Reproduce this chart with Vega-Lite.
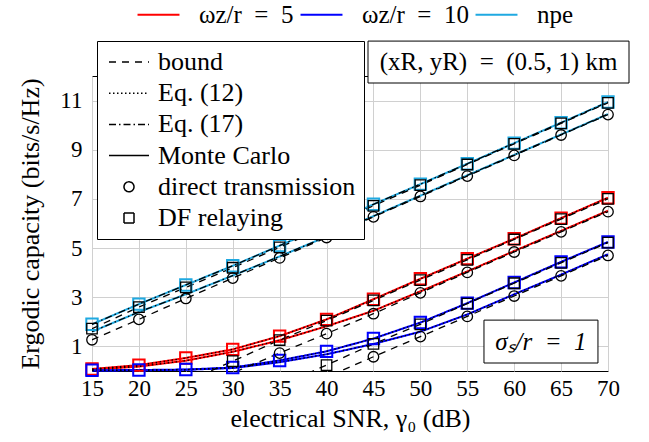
{
  "$schema": "https://vega.github.io/schema/vega-lite/v6.json",
  "width": 516,
  "height": 295,
  "autosize": {"type": "none"},
  "padding": {"left": 92, "top": 76, "right": 41, "bottom": 71},
  "background": "white",
  "config": {
    "font": "Liberation Serif",
    "view": {"stroke": "black", "strokeWidth": 1},
    "axis": {"labelFont": "Liberation Serif", "labelFontSize": 23, "labelColor": "black", "titleFont": "Liberation Serif", "titleFontSize": 26, "titleFontWeight": "normal", "titleColor": "black", "grid": true, "gridColor": "#d0d0d0", "gridWidth": 1, "domain": false, "ticks": false, "labelFlush": false, "labelOverlap": false},
    "legend": {"symbolBaseStrokeColor": "black", "symbolBaseFillColor": "transparent", "labelFont": "Liberation Serif", "labelColor": "black"}
  },
  "data": {"values": [
    {"snr": 15, "group": "w5", "scheme": "DF relaying", "mc": 0.08, "bound": -2.1},
    {"snr": 20, "group": "w5", "scheme": "DF relaying", "mc": 0.24, "bound": -1.3},
    {"snr": 25, "group": "w5", "scheme": "DF relaying", "mc": 0.53, "bound": -0.45},
    {"snr": 30, "group": "w5", "scheme": "DF relaying", "mc": 0.88, "bound": 0.4},
    {"snr": 35, "group": "w5", "scheme": "DF relaying", "mc": 1.42, "bound": 1.26},
    {"snr": 40, "group": "w5", "scheme": "DF relaying", "mc": 2.1, "bound": 2.05},
    {"snr": 45, "group": "w5", "scheme": "DF relaying", "mc": 2.92, "bound": 2.87},
    {"snr": 50, "group": "w5", "scheme": "DF relaying", "mc": 3.75, "bound": 3.7},
    {"snr": 55, "group": "w5", "scheme": "DF relaying", "mc": 4.57, "bound": 4.52},
    {"snr": 60, "group": "w5", "scheme": "DF relaying", "mc": 5.38, "bound": 5.35},
    {"snr": 65, "group": "w5", "scheme": "DF relaying", "mc": 6.22, "bound": 6.18},
    {"snr": 70, "group": "w5", "scheme": "DF relaying", "mc": 7.05, "bound": 7.0},
    {"snr": 15, "group": "w5", "scheme": "direct transmission", "mc": 0.06, "bound": -2.5},
    {"snr": 20, "group": "w5", "scheme": "direct transmission", "mc": 0.18, "bound": -1.7},
    {"snr": 25, "group": "w5", "scheme": "direct transmission", "mc": 0.42, "bound": -0.9},
    {"snr": 30, "group": "w5", "scheme": "direct transmission", "mc": 0.78, "bound": -0.08},
    {"snr": 35, "group": "w5", "scheme": "direct transmission", "mc": 1.25, "bound": 0.73},
    {"snr": 40, "group": "w5", "scheme": "direct transmission", "mc": 1.82, "bound": 1.52},
    {"snr": 45, "group": "w5", "scheme": "direct transmission", "mc": 2.45, "bound": 2.33},
    {"snr": 50, "group": "w5", "scheme": "direct transmission", "mc": 3.24, "bound": 3.18},
    {"snr": 55, "group": "w5", "scheme": "direct transmission", "mc": 4.05, "bound": 4.01},
    {"snr": 60, "group": "w5", "scheme": "direct transmission", "mc": 4.88, "bound": 4.84},
    {"snr": 65, "group": "w5", "scheme": "direct transmission", "mc": 5.7, "bound": 5.66},
    {"snr": 70, "group": "w5", "scheme": "direct transmission", "mc": 6.52, "bound": 6.48},
    {"snr": 15, "group": "w10", "scheme": "DF relaying", "mc": 0.03, "bound": -3.8},
    {"snr": 20, "group": "w10", "scheme": "DF relaying", "mc": 0.04, "bound": -3.0},
    {"snr": 25, "group": "w10", "scheme": "DF relaying", "mc": 0.06, "bound": -2.2},
    {"snr": 30, "group": "w10", "scheme": "DF relaying", "mc": 0.14, "bound": -1.4},
    {"snr": 35, "group": "w10", "scheme": "DF relaying", "mc": 0.43, "bound": -0.6},
    {"snr": 40, "group": "w10", "scheme": "DF relaying", "mc": 0.8, "bound": 0.24},
    {"snr": 45, "group": "w10", "scheme": "DF relaying", "mc": 1.32, "bound": 1.1},
    {"snr": 50, "group": "w10", "scheme": "DF relaying", "mc": 1.97, "bound": 1.9},
    {"snr": 55, "group": "w10", "scheme": "DF relaying", "mc": 2.76, "bound": 2.74},
    {"snr": 60, "group": "w10", "scheme": "DF relaying", "mc": 3.6, "bound": 3.57},
    {"snr": 65, "group": "w10", "scheme": "DF relaying", "mc": 4.44, "bound": 4.4},
    {"snr": 70, "group": "w10", "scheme": "DF relaying", "mc": 5.25, "bound": 5.22},
    {"snr": 15, "group": "w10", "scheme": "direct transmission", "mc": 0.02, "bound": -4.3},
    {"snr": 20, "group": "w10", "scheme": "direct transmission", "mc": 0.03, "bound": -3.5},
    {"snr": 25, "group": "w10", "scheme": "direct transmission", "mc": 0.05, "bound": -2.7},
    {"snr": 30, "group": "w10", "scheme": "direct transmission", "mc": 0.12, "bound": -1.9},
    {"snr": 35, "group": "w10", "scheme": "direct transmission", "mc": 0.36, "bound": -1.1},
    {"snr": 40, "group": "w10", "scheme": "direct transmission", "mc": 0.68, "bound": -0.25},
    {"snr": 45, "group": "w10", "scheme": "direct transmission", "mc": 1.1, "bound": 0.58},
    {"snr": 50, "group": "w10", "scheme": "direct transmission", "mc": 1.6, "bound": 1.4},
    {"snr": 55, "group": "w10", "scheme": "direct transmission", "mc": 2.3, "bound": 2.22},
    {"snr": 60, "group": "w10", "scheme": "direct transmission", "mc": 3.12, "bound": 3.05},
    {"snr": 65, "group": "w10", "scheme": "direct transmission", "mc": 3.92, "bound": 3.87},
    {"snr": 70, "group": "w10", "scheme": "direct transmission", "mc": 4.75, "bound": 4.7},
    {"snr": 15, "group": "npe", "scheme": "DF relaying", "mc": 1.9, "bound": 1.72},
    {"snr": 20, "group": "npe", "scheme": "DF relaying", "mc": 2.72, "bound": 2.6},
    {"snr": 25, "group": "npe", "scheme": "DF relaying", "mc": 3.5, "bound": 3.4},
    {"snr": 30, "group": "npe", "scheme": "DF relaying", "mc": 4.28, "bound": 4.2},
    {"snr": 35, "group": "npe", "scheme": "DF relaying", "mc": 5.1, "bound": 5.03},
    {"snr": 40, "group": "npe", "scheme": "DF relaying", "mc": 5.93, "bound": 5.87},
    {"snr": 45, "group": "npe", "scheme": "DF relaying", "mc": 6.78, "bound": 6.72},
    {"snr": 50, "group": "npe", "scheme": "DF relaying", "mc": 7.6, "bound": 7.56},
    {"snr": 55, "group": "npe", "scheme": "DF relaying", "mc": 8.43, "bound": 8.4},
    {"snr": 60, "group": "npe", "scheme": "DF relaying", "mc": 9.27, "bound": 9.24},
    {"snr": 65, "group": "npe", "scheme": "DF relaying", "mc": 10.1, "bound": 10.07},
    {"snr": 70, "group": "npe", "scheme": "DF relaying", "mc": 10.94, "bound": 10.91},
    {"snr": 15, "group": "npe", "scheme": "direct transmission", "mc": 1.6, "bound": 1.27},
    {"snr": 20, "group": "npe", "scheme": "direct transmission", "mc": 2.4, "bound": 2.1},
    {"snr": 25, "group": "npe", "scheme": "direct transmission", "mc": 3.12, "bound": 2.95},
    {"snr": 30, "group": "npe", "scheme": "direct transmission", "mc": 3.88, "bound": 3.78},
    {"snr": 35, "group": "npe", "scheme": "direct transmission", "mc": 4.66, "bound": 4.6},
    {"snr": 40, "group": "npe", "scheme": "direct transmission", "mc": 5.47, "bound": 5.43},
    {"snr": 45, "group": "npe", "scheme": "direct transmission", "mc": 6.3, "bound": 6.27},
    {"snr": 50, "group": "npe", "scheme": "direct transmission", "mc": 7.13, "bound": 7.1},
    {"snr": 55, "group": "npe", "scheme": "direct transmission", "mc": 7.96, "bound": 7.93},
    {"snr": 60, "group": "npe", "scheme": "direct transmission", "mc": 8.79, "bound": 8.77},
    {"snr": 65, "group": "npe", "scheme": "direct transmission", "mc": 9.62, "bound": 9.6},
    {"snr": 70, "group": "npe", "scheme": "direct transmission", "mc": 10.45, "bound": 10.43}
  ]},
  "layer": [
    {
      "mark": {"type": "line", "strokeWidth": 2},
      "encoding": {
        "x": {"field": "snr", "type": "quantitative", "scale": {"domain": [15, 70], "nice": false, "zero": false}, "axis": {"values": [15, 20, 25, 30, 35, 40, 45, 50, 55, 60, 65, 70], "title": "electrical SNR, γ₀ (dB)", "labelPadding": 6, "titlePadding": 5}},
        "y": {"field": "mc", "type": "quantitative", "scale": {"domain": [0, 12], "nice": false, "zero": false}, "axis": {"values": [1, 3, 5, 7, 9, 11], "title": "Ergodic capacity (bits/s/Hz)", "labelPadding": 10, "titlePadding": 16}},
        "color": {"field": "group", "type": "nominal", "scale": {"domain": ["w5", "w10", "npe"], "range": ["#ff0000", "#0000ff", "#1fa9e1"]},
          "legend": {"orient": "none", "legendX": 45, "legendY": -74, "direction": "horizontal", "title": null, "symbolType": "M-4,0L4,0", "symbolSize": 110, "symbolStrokeWidth": 2, "symbolFillColor": "transparent", "labelFontSize": 25, "labelOffset": 28, "symbolOffset": 9, "columnPadding": 2, "padding": 0, "labelLimit": 300,
            "labelExpr": "datum.label == 'w5' ? 'ωz/r\u2002=\u20025' : datum.label == 'w10' ? 'ωz/r\u2002=\u200210' : 'npe'",
            "encode": {"labels": {"fontStyle": {"value": {"expr": "datum.value == 'npe' ? 'normal' : 'italic'"}}}}}},
        "strokeDash": {"datum": "Monte Carlo", "type": "nominal",
          "scale": {"domain": ["bound", "Eq. (12)", "Eq. (17)", "Monte Carlo", "direct transmission", "DF relaying"], "range": [[7, 6], [1.5, 2.5], [7, 3, 1.5, 3], [1, 0], [1, 0], [1, 0]]},
          "legend": {"orient": "none", "legendX": 5, "legendY": -35, "title": null, "direction": "vertical", "strokeColor": "black", "fillColor": "white", "padding": 8, "cornerRadius": 0, "labelFontSize": 26, "labelLimit": 400, "symbolSize": 100, "symbolStrokeWidth": 1.5, "symbolStrokeColor": "black", "symbolFillColor": "transparent", "symbolOffset": 11, "labelOffset": 16, "rowPadding": 5.2, "symbolType": "M-4,0L4,0"}},
        "detail": {"field": "scheme"}
      }
    },
    {
      "transform": [{"filter": "datum.group != 'npe'"}],
      "mark": {"type": "line", "strokeWidth": 1.3, "color": "black"},
      "encoding": {
        "x": {"field": "snr", "type": "quantitative"},
        "y": {"field": "mc", "type": "quantitative"},
        "strokeDash": {"datum": "Eq. (12)", "type": "nominal",
          "scale": {"domain": ["bound", "Eq. (12)", "Eq. (17)", "Monte Carlo", "direct transmission", "DF relaying"], "range": [[7, 6], [1.5, 2.5], [7, 3, 1.5, 3], [1, 0], [1, 0], [1, 0]]},
          "legend": {"orient": "none", "legendX": 5, "legendY": -35, "title": null, "direction": "vertical", "strokeColor": "black", "fillColor": "white", "padding": 8, "cornerRadius": 0, "labelFontSize": 26, "labelLimit": 400, "symbolSize": 100, "symbolStrokeWidth": 1.5, "symbolStrokeColor": "black", "symbolFillColor": "transparent", "symbolOffset": 11, "labelOffset": 16, "rowPadding": 5.2, "symbolType": "M-4,0L4,0"}},
        "detail": [{"field": "group"}, {"field": "scheme"}]
      }
    },
    {
      "transform": [{"filter": "datum.group == 'npe'"}],
      "mark": {"type": "line", "strokeWidth": 1.3, "color": "black"},
      "encoding": {
        "x": {"field": "snr", "type": "quantitative"},
        "y": {"field": "mc", "type": "quantitative"},
        "strokeDash": {"datum": "Eq. (17)", "type": "nominal",
          "scale": {"domain": ["bound", "Eq. (12)", "Eq. (17)", "Monte Carlo", "direct transmission", "DF relaying"], "range": [[7, 6], [1.5, 2.5], [7, 3, 1.5, 3], [1, 0], [1, 0], [1, 0]]},
          "legend": {"orient": "none", "legendX": 5, "legendY": -35, "title": null, "direction": "vertical", "strokeColor": "black", "fillColor": "white", "padding": 8, "cornerRadius": 0, "labelFontSize": 26, "labelLimit": 400, "symbolSize": 100, "symbolStrokeWidth": 1.5, "symbolStrokeColor": "black", "symbolFillColor": "transparent", "symbolOffset": 11, "labelOffset": 16, "rowPadding": 5.2, "symbolType": "M-4,0L4,0"}},
        "detail": [{"field": "group"}, {"field": "scheme"}]
      }
    },
    {
      "mark": {"type": "line", "strokeWidth": 1.3, "color": "black", "clip": true},
      "encoding": {
        "x": {"field": "snr", "type": "quantitative"},
        "y": {"field": "bound", "type": "quantitative"},
        "strokeDash": {"datum": "bound", "type": "nominal",
          "scale": {"domain": ["bound", "Eq. (12)", "Eq. (17)", "Monte Carlo", "direct transmission", "DF relaying"], "range": [[7, 6], [1.5, 2.5], [7, 3, 1.5, 3], [1, 0], [1, 0], [1, 0]]},
          "legend": {"orient": "none", "legendX": 5, "legendY": -35, "title": null, "direction": "vertical", "strokeColor": "black", "fillColor": "white", "padding": 8, "cornerRadius": 0, "labelFontSize": 26, "labelLimit": 400, "symbolSize": 100, "symbolStrokeWidth": 1.5, "symbolStrokeColor": "black", "symbolFillColor": "transparent", "symbolOffset": 11, "labelOffset": 16, "rowPadding": 5.2, "symbolType": "M-4,0L4,0"}},
        "detail": [{"field": "group"}, {"field": "scheme"}]
      }
    },
    {
      "transform": [{"filter": "datum.scheme == 'DF relaying'"}],
      "mark": {"type": "point", "filled": false, "strokeWidth": 2, "size": 130, "opacity": 1},
      "encoding": {
        "x": {"field": "snr", "type": "quantitative"},
        "y": {"field": "mc", "type": "quantitative"},
        "color": {"field": "group", "type": "nominal", "scale": {"domain": ["w5", "w10", "npe"], "range": ["#ff0000", "#0000ff", "#1fa9e1"]},
          "legend": {"orient": "none", "legendX": 45, "legendY": -74, "direction": "horizontal", "title": null, "symbolType": "M-4,0L4,0", "symbolSize": 110, "symbolStrokeWidth": 2, "symbolFillColor": "transparent", "labelFontSize": 25, "labelOffset": 28, "symbolOffset": 9, "columnPadding": 2, "padding": 0, "labelLimit": 300,
            "labelExpr": "datum.label == 'w5' ? 'ωz/r\u2002=\u20025' : datum.label == 'w10' ? 'ωz/r\u2002=\u200210' : 'npe'",
            "encode": {"labels": {"fontStyle": {"value": {"expr": "datum.value == 'npe' ? 'normal' : 'italic'"}}}}}},
        "shape": {"field": "scheme", "type": "nominal",
          "scale": {"domain": ["bound", "Eq. (12)", "Eq. (17)", "Monte Carlo", "direct transmission", "DF relaying"], "range": ["M-4,0L4,0", "M-4,0L4,0", "M-4,0L4,0", "M-4,0L4,0", "circle", "square"]},
          "legend": {"orient": "none", "legendX": 5, "legendY": -35, "title": null, "direction": "vertical", "strokeColor": "black", "fillColor": "white", "padding": 8, "cornerRadius": 0, "labelFontSize": 26, "labelLimit": 400, "symbolSize": 100, "symbolStrokeWidth": 1.5, "symbolStrokeColor": "black", "symbolFillColor": "transparent", "symbolOffset": 11, "labelOffset": 16, "rowPadding": 5.2, "symbolType": "M-4,0L4,0"}}
      }
    },
    {
      "transform": [{"filter": "datum.bound >= 0"}],
      "mark": {"type": "point", "filled": false, "strokeWidth": 1.3, "size": 110, "color": "black", "opacity": 1},
      "encoding": {
        "x": {"field": "snr", "type": "quantitative"},
        "y": {"field": "bound", "type": "quantitative"},
        "shape": {"field": "scheme", "type": "nominal",
          "scale": {"domain": ["bound", "Eq. (12)", "Eq. (17)", "Monte Carlo", "direct transmission", "DF relaying"], "range": ["M-4,0L4,0", "M-4,0L4,0", "M-4,0L4,0", "M-4,0L4,0", "circle", "square"]},
          "legend": {"orient": "none", "legendX": 5, "legendY": -35, "title": null, "direction": "vertical", "strokeColor": "black", "fillColor": "white", "padding": 8, "cornerRadius": 0, "labelFontSize": 26, "labelLimit": 400, "symbolSize": 100, "symbolStrokeWidth": 1.5, "symbolStrokeColor": "black", "symbolFillColor": "transparent", "symbolOffset": 11, "labelOffset": 16, "rowPadding": 5.2, "symbolType": "M-4,0L4,0"}}
      }
    },
    {
      "data": {"values": [{}]},
      "mark": {"type": "rect", "fill": "white", "stroke": "black", "strokeWidth": 1},
      "encoding": {"x": {"datum": 44.42}, "x2": {"datum": 72.24}, "y": {"datum": 13.42}, "y2": {"datum": 11.715}}
    },
    {
      "data": {"values": [{}]},
      "mark": {"type": "text", "fontSize": 25, "font": "Liberation Serif", "align": "center", "baseline": "middle", "color": "black"},
      "encoding": {"x": {"datum": 58.33}, "y": {"datum": 12.57}, "text": {"value": "(xR, yR)\u2002=\u2002(0.5, 1) km"}}
    },
    {
      "data": {"values": [{}]},
      "mark": {"type": "rect", "fill": "white", "stroke": "black", "strokeWidth": 1},
      "encoding": {"x": {"datum": 56.78}, "x2": {"datum": 68.93}, "y": {"datum": 2.07}, "y2": {"datum": 0.325}}
    },
    {
      "data": {"values": [{}]},
      "mark": {"type": "text", "fontSize": 25, "font": "Liberation Serif", "fontStyle": "italic", "align": "center", "baseline": "middle", "color": "black"},
      "encoding": {"x": {"datum": 62.85}, "y": {"datum": 1.2}, "text": {"value": "σₛ/r\u2002=\u20021"}}
    }
  ]
}
